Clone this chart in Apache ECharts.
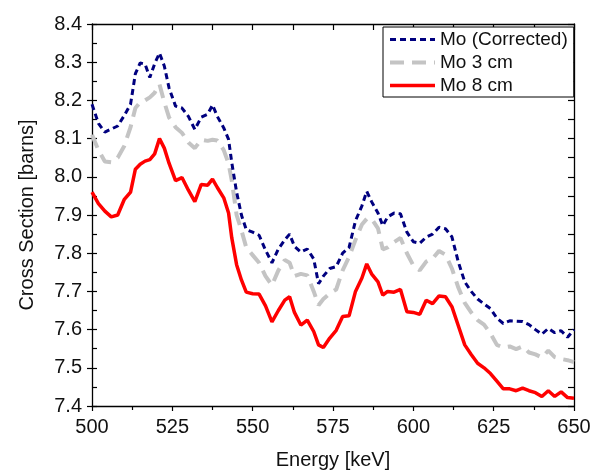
<!DOCTYPE html>
<html><head><meta charset="utf-8">
<script src="https://cdn.jsdelivr.net/npm/echarts@6/dist/echarts.min.js"></script>
<style>html,body{margin:0;padding:0;background:#fff}#c{width:601px;height:475px}</style>
</head><body><div id="c"></div>
<script>
var energies = [500,502,504,506,508,510,512,513.5,515,516.5,518,519.5,521,522.5,524,526,528,530,532,534,536,537.5,539,541,542.5,543.5,545,546.5,548,550,552,554,556,558,560,561.5,563,565,567,569,570.5,572,574,576,578,580,582,584,585.5,587,589,590.5,592,594,596,598,600,602,604,606,608,610,612,614,616,618,620,622,624,626,628,630,632,634,636,638,640,642,644,646,648,650];
var moCorrected = [8.19,8.14,8.117,8.125,8.133,8.16,8.19,8.27,8.298,8.295,8.26,8.296,8.324,8.29,8.232,8.185,8.18,8.158,8.124,8.156,8.164,8.188,8.158,8.128,8.098,8.037,7.96,7.90,7.862,7.855,7.847,7.808,7.775,7.811,7.835,7.85,7.818,7.803,7.811,7.785,7.72,7.74,7.76,7.765,7.80,7.815,7.885,7.924,7.962,7.935,7.905,7.872,7.895,7.905,7.903,7.855,7.83,7.826,7.842,7.85,7.868,7.864,7.843,7.777,7.725,7.70,7.68,7.667,7.655,7.63,7.616,7.623,7.622,7.621,7.613,7.60,7.588,7.603,7.592,7.597,7.58,7.60];
var mo3cm = [8.11,8.07,8.04,8.038,8.05,8.08,8.13,8.18,8.195,8.20,8.208,8.22,8.242,8.195,8.155,8.13,8.115,8.09,8.075,8.097,8.094,8.097,8.095,8.07,8.035,7.99,7.90,7.86,7.815,7.795,7.775,7.74,7.716,7.755,7.782,7.775,7.74,7.746,7.742,7.70,7.664,7.68,7.695,7.705,7.755,7.79,7.835,7.875,7.89,7.89,7.865,7.81,7.815,7.829,7.84,7.80,7.768,7.755,7.778,7.786,7.806,7.796,7.76,7.71,7.67,7.645,7.625,7.613,7.59,7.56,7.553,7.556,7.549,7.556,7.54,7.535,7.527,7.545,7.528,7.523,7.52,7.515];
var mo8cm = [7.96,7.93,7.91,7.895,7.90,7.94,7.96,8.02,8.033,8.041,8.045,8.06,8.10,8.075,8.035,7.99,7.998,7.965,7.935,7.98,7.978,7.994,7.972,7.945,7.905,7.84,7.77,7.73,7.698,7.694,7.693,7.662,7.62,7.65,7.677,7.686,7.645,7.612,7.625,7.595,7.56,7.553,7.578,7.598,7.634,7.636,7.70,7.735,7.772,7.746,7.725,7.69,7.70,7.698,7.705,7.647,7.645,7.64,7.677,7.668,7.688,7.686,7.66,7.61,7.56,7.535,7.512,7.50,7.485,7.465,7.445,7.445,7.44,7.447,7.44,7.435,7.425,7.44,7.425,7.437,7.422,7.42];
var seriesNames = ['Mo (Corrected)','Mo 3 cm','Mo 8 cm'];
var xTicks = [500,525,550,575,600,625,650];
var yTicks = [7.4,7.5,7.6,7.7,7.8,7.9,8.0,8.1,8.2,8.3,8.4];

function pairs(v){return energies.map(function(e,i){return [e,v[i]];});}
var FONT = 'Liberation Sans, Arial, sans-serif';
var axisLine = {show:true,lineStyle:{color:'#000',width:1.3}};
var xMin = xTicks[0], xMax = xTicks[xTicks.length-1];
var yMin = yTicks[0], yMax = yTicks[yTicks.length-1];
var styles = [
  {color:'#00007f',width:3,type:[6,4]},
  {color:'#c4c4c4',width:4,type:[14,8]},
  {color:'#ff0000',width:3.5,type:'solid'}
];

var chart = echarts.init(document.getElementById('c'), null, {renderer:'canvas'});
chart.setOption({
  animation:false,
  backgroundColor:'#fff',
  grid:{left:92,right:27,top:24,bottom:67,containLabel:false},
  legend:{
    orient:'vertical', left:383, top:27,
    data:seriesNames.map(function(n,i){return {name:n,lineStyle:{color:styles[i].color,width:styles[i].width,type:styles[i].type}};}),
    itemWidth:45, itemHeight:14, itemGap:4,
    padding:[3,6,2,5],
    borderColor:'#000', borderWidth:1, borderRadius:0,
    backgroundColor:'#fff',
    itemStyle:{color:'rgba(0,0,0,0)',borderWidth:0,opacity:0},
    textStyle:{fontFamily:FONT,fontSize:19,color:'#111'}
  },
  xAxis:[
    {type:'value',position:'bottom',min:xMin,max:xMax,interval:25,
     axisLine:axisLine,
     axisTick:{show:true,inside:false,length:5,lineStyle:{color:'#000',width:1.2}},
     minorTick:{show:true,splitNumber:2,length:4,lineStyle:{color:'#000',width:1.2}},
     splitLine:{show:false},
     axisLabel:{fontFamily:FONT,fontSize:20,color:'#111',margin:11},
     name:'Energy [keV]',nameLocation:'middle',nameGap:44,
     nameTextStyle:{fontFamily:FONT,fontSize:20,color:'#111'}},
    {type:'value',position:'top',min:xMin,max:xMax,interval:25,
     axisLine:axisLine,
     axisTick:{show:true,inside:true,length:6,lineStyle:{color:'#000',width:1.2}},
     minorTick:{show:true,splitNumber:2,length:6,lineStyle:{color:'#000',width:1.2}},
     splitLine:{show:false},axisLabel:{show:false}}
  ],
  yAxis:[
    {type:'value',position:'left',min:yMin,max:yMax,interval:0.1,
     axisLine:axisLine,
     axisTick:{show:true,inside:false,length:5,lineStyle:{color:'#000',width:1.2}},
     splitLine:{show:false},
     axisLabel:{fontFamily:FONT,fontSize:20,color:'#111',margin:10,
       formatter:function(v){return v.toFixed(1);}},
     name:'Cross Section [barns]',nameLocation:'middle',nameGap:55,
     nameTextStyle:{fontFamily:FONT,fontSize:20,color:'#111'}},
    {type:'value',position:'left',min:yMin,max:yMax,interval:0.1,
     axisLine:{show:false},
     axisTick:{show:true,inside:true,length:5,lineStyle:{color:'#000',width:1.2}},
     minorTick:{show:true,splitNumber:2,length:5,lineStyle:{color:'#000',width:1.2}},
     splitLine:{show:false},axisLabel:{show:false}},
    {type:'value',position:'right',min:yMin,max:yMax,interval:0.1,
     axisLine:axisLine,
     axisTick:{show:true,inside:true,length:6,lineStyle:{color:'#000',width:1.2}},
     minorTick:{show:true,splitNumber:2,length:6,lineStyle:{color:'#000',width:1.2}},
     splitLine:{show:false},axisLabel:{show:false}}
  ],
  series:[
    {name:seriesNames[0],type:'line',data:pairs(moCorrected),showSymbol:false,symbol:'none',
     lineStyle:styles[0],itemStyle:{color:styles[0].color},z:3},
    {name:seriesNames[1],type:'line',data:pairs(mo3cm),showSymbol:false,symbol:'none',
     lineStyle:styles[1],itemStyle:{color:styles[1].color},z:2},
    {name:seriesNames[2],type:'line',data:pairs(mo8cm),showSymbol:false,symbol:'none',
     lineStyle:styles[2],itemStyle:{color:styles[2].color},z:4}
  ]
});
</script></body></html>
